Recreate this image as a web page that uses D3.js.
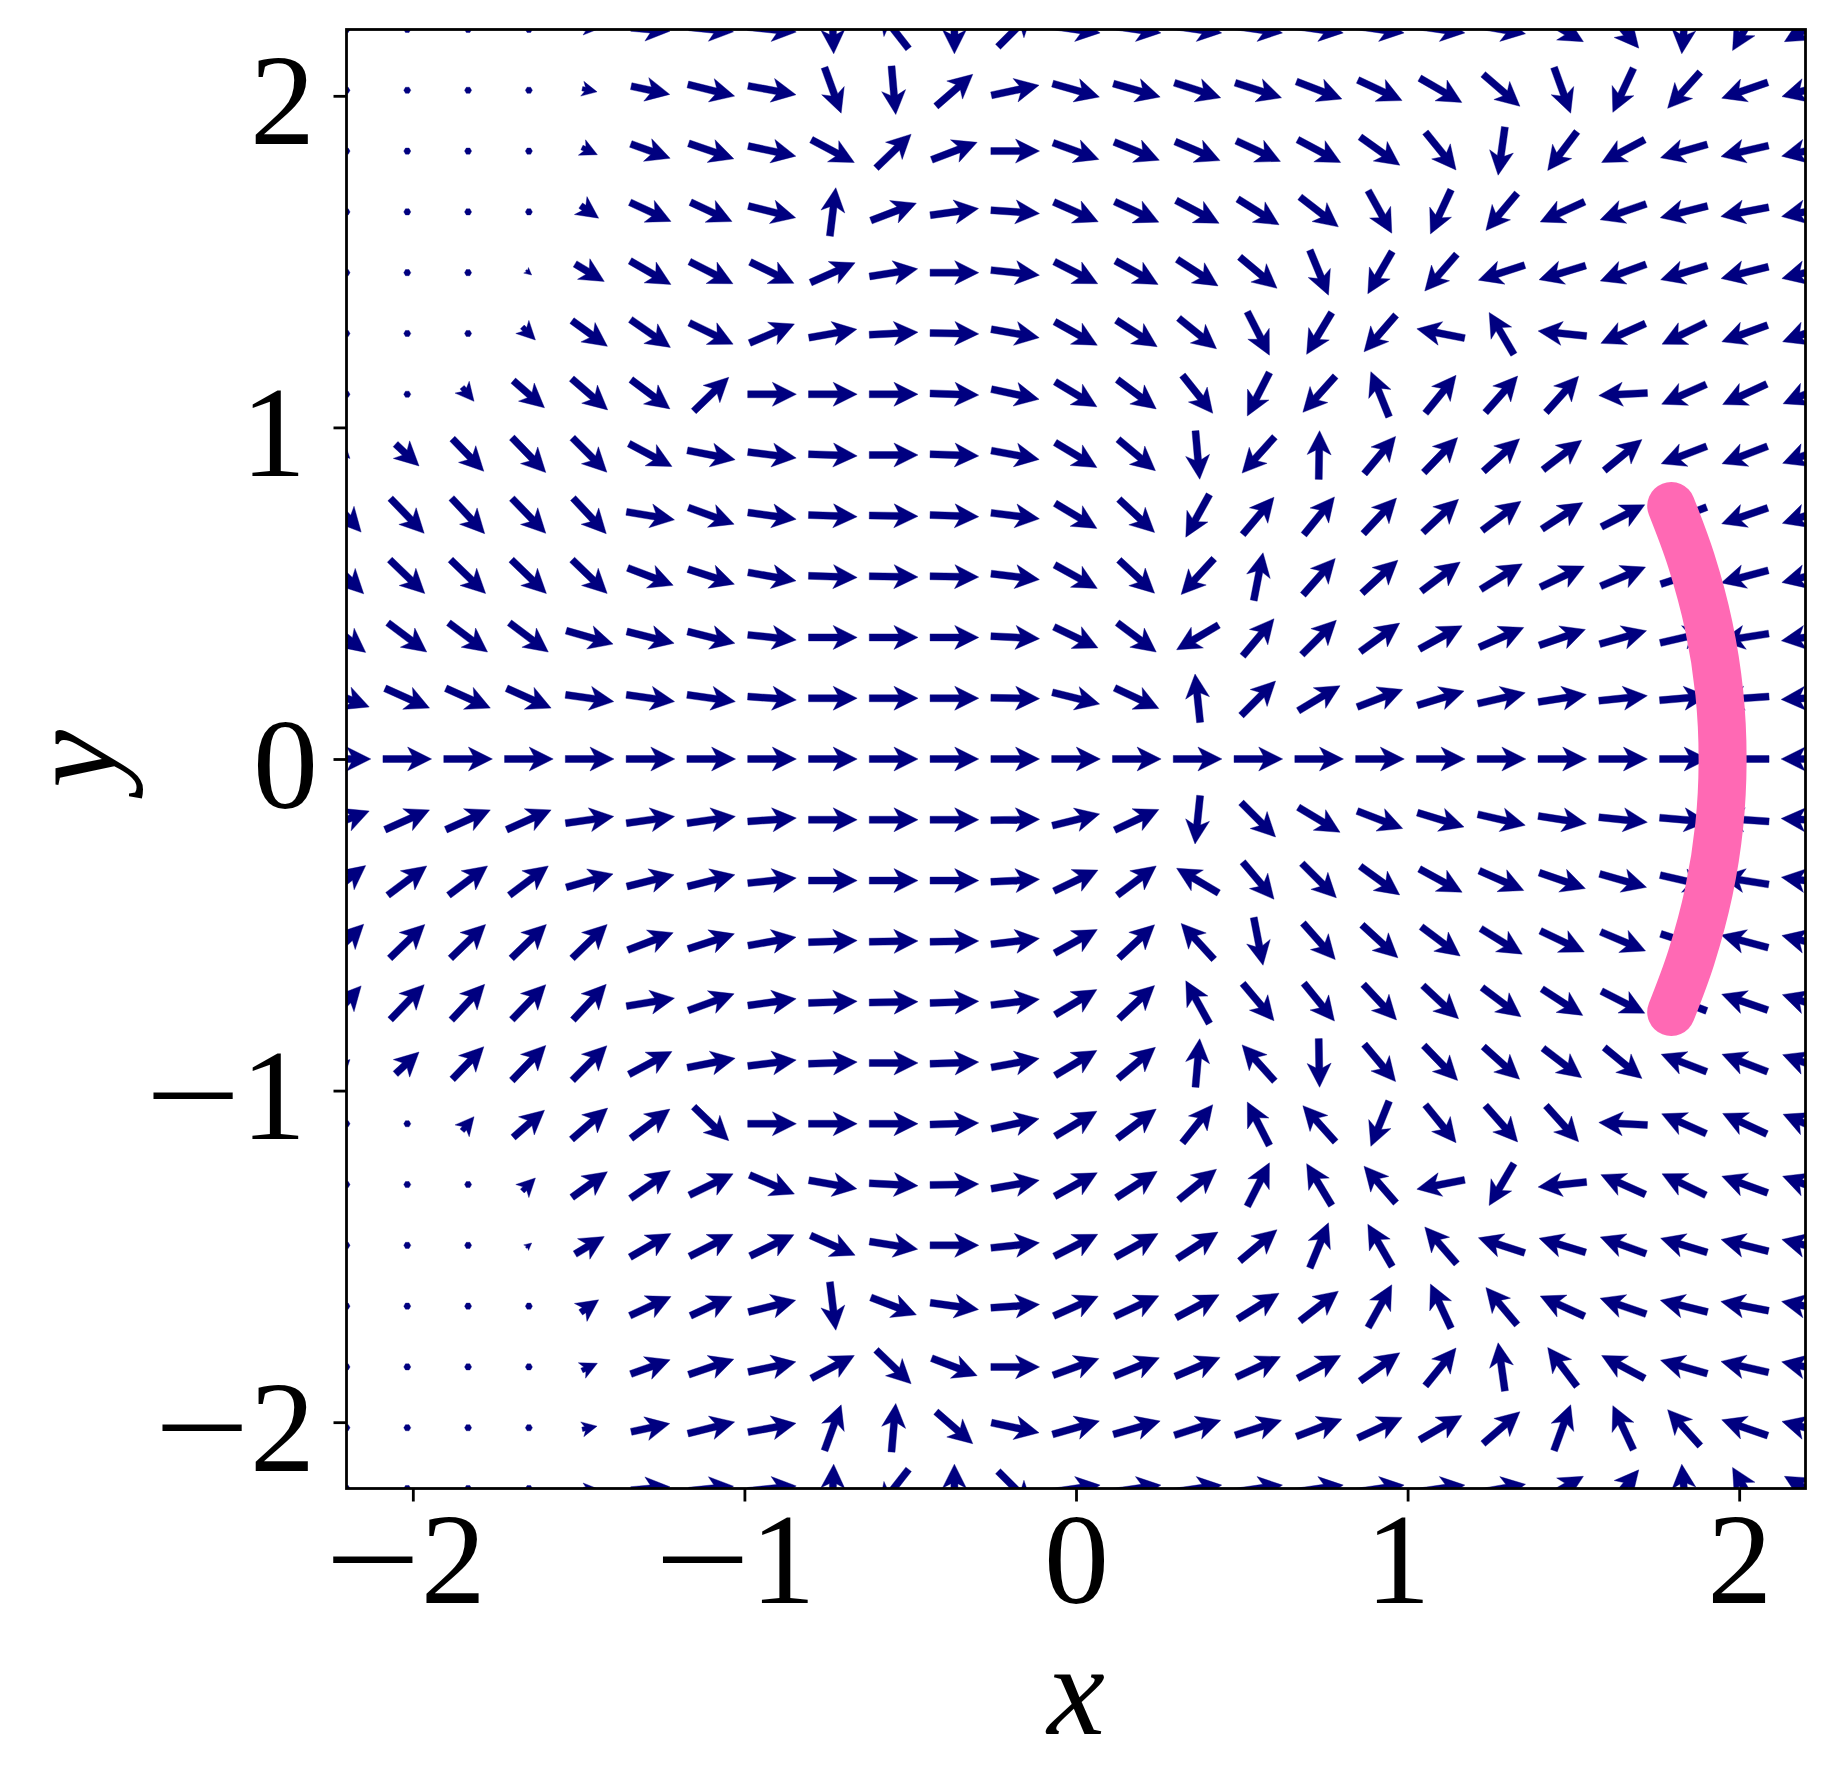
<!DOCTYPE html>
<html>
<head>
<meta charset="utf-8">
<script src="https://cdn.jsdelivr.net/npm/d3@7"></script>
<style>
  html, body { margin: 0; padding: 0; background: #ffffff; }
  svg { display: block; }
</style>
</head>
<body>
<svg id="chart" width="1834" height="1787"></svg>
<script>
// ---------------- DATA ----------------
const xGrid = [-2.2, -2.0167, -1.8333, -1.65, -1.4667, -1.2833, -1.1, -0.9167, -0.7333, -0.55, -0.3667, -0.1833,
               0, 0.1833, 0.3667, 0.55, 0.7333, 0.9167, 1.1, 1.2833, 1.4667, 1.65, 1.8333, 2.0167, 2.2];
const yGrid = [2.2, 2.0167, 1.8333, 1.65, 1.4667, 1.2833, 1.1, 0.9167, 0.7333, 0.55, 0.3667, 0.1833,
               0, -0.1833, -0.3667, -0.55, -0.7333, -0.9167, -1.1, -1.2833, -1.4667, -1.65, -1.8333, -2.0167, -2.2];

// arrow direction in degrees (counter-clockwise from +x), one row per yGrid value, one entry per xGrid value
const angleRows = [
  [0,0,0,0,-5,-5,-6,-6,-88,128,-90,45,-8,-8,-8,-8,-8,-8,-8,-10,-30,-50,-95,-120,-150],
  [0,0,0,0,-12,-12,-14,-10.5,-70,-85,41,12,-16,-16,-18,-18,-21,-25,-30,-41,-70,-115,-132,-161,-165],
  [0,0,0,0,-25,-20,-19,-12,-28,44,21,0,-20,-22,-23,-25,-28,-35.5,-51,-98,-127,-152,-164,-167,-168],
  [0,0,0,0,-35,-25,-25,-14,83,21,8,-4,-24,-25,-28,-32,-38,-61,-115,-130,-155.5,-161,-166,-169,-169],
  [0,0,0,-40,-31,-30,-27,-26,24,9,0,-6,-27,-29,-33,-40,-67.5,-120,-131,-162,-163,-160,-163,-166,-166],
  [0,0,0,-45,-36,-35,-26,23,10,3,-1,-10,-29,-33,-39,-63,-121,-131,169,120.5,174,-156,-154,-160,-160],
  [0,0,-50,-41,-41,-37,44,0,0,0,-2,-12,-31,-37,-51.5,-117,-132,112,51,48.5,48,-177,-156,-155,-157],
  [-45,-43,-46,-46,-45,-28,-11,-7,-2,0,-2,-10.5,-31,-40,-85,-132,89,50,46,42,37.5,39.5,-159,-159,-160],
  [-48,-46,-47,-46,-47,-9.5,-20,-8,-2,-1,-2,-7,-31,-43,-119,50,51,47,43,37,33,27,-159,-161,-162],
  [-45,-44,-44,-44,-44,-21,-18,-10,-2,-1,-1,-7,-29,-43,-132.5,79,48.5,42.6,37,31.6,25.6,23,18,-165,-166],
  [-38,-37,-37,-37,-16,-14,-14,-6,0,0,0,-3,-25.5,-37,-149.5,50,45,36,28.6,24,19,16,13,-171,-172],
  [-21,-24,-24,-24,-8,-8,-8,-4,0,0,0,-1,-14,-25,96,45,31,21,17,13,9,6,5,-176,-177],
  [0,0,0,0,0,0,0,0,0,0,0,0,0,0,0,0,0,0,0,0,0,0,0,180,180],
  [21,24,24,24,8,8,8,4,0,0,0,1,14,25,-96,-45,-31,-21,-17,-13,-9,-6,-5,176,177],
  [38,37,37,37,16,14,14,6,0,0,0,3,25.5,37,149.5,-50,-45,-36,-28.6,-24,-19,-16,-13,171,172],
  [45,44,44,44,44,21,18,10,2,1,1,7,29,43,132.5,-79,-48.5,-42.6,-37,-31.6,-25.6,-23,-18,165,166],
  [48,46,47,46,47,9.5,20,8,2,1,2,7,31,43,119,-50,-51,-47,-43,-37,-33,-27,159,161,162],
  [45,43,46,46,45,28,11,7,2,0,2,10.5,31,40,85,132,-89,-50,-46,-42,-37.5,-39.5,159,159,160],
  [0,0,50,41,41,37,-44,0,0,0,2,12,31,37,51.5,117,132,-112,-51,-48.5,-48,177,156,155,157],
  [0,0,0,45,36,35,26,-23,-10,-3,1,10,29,33,39,63,121,131,-169,-120.5,-174,156,154,160,160],
  [0,0,0,40,31,30,27,26,-24,-9,0,6,27,29,33,40,67.5,120,131,162,163,160,163,166,166],
  [0,0,0,0,35,25,25,14,-83,-21,-8,4,24,25,28,32,38,61,115,130,155.5,161,166,169,169],
  [0,0,0,0,25,20,19,12,28,-44,-21,0,20,22,23,25,28,35.5,51,98,127,152,164,167,168],
  [0,0,0,0,12,12,14,10.5,70,85,-41,-12,16,16,18,18,21,25,30,41,70,115,132,161,165],
  [0,0,0,0,5,5,6,6,88,-128,90,-45,8,8,8,8,8,8,8,10,30,50,95,120,150]
];

// relative arrow magnitude (1 = full-length arrow, 0 = dot)
const magRows = [
  [0,0,0,0,0.25,0.8,0.92,1,1,1,1,1,1,1,1,1,1,1,1,1,1,1,1,1,1],
  [0,0,0,0,0.31,0.81,0.99,1,1,1,1,1,1,1,1,1,1,1,1,1,1,1,1,1,1],
  [0,0,0,0,0.35,0.86,0.98,1,1,1,1,1,1,1,1,1,1,1,1,1,1,1,1,1,1],
  [0,0,0,0,0.45,0.93,0.94,1,1,1,1,1,1,1,1,1,1,1,1,1,1,1,1,1,1],
  [0,0,0,0.15,0.7,0.97,1,1,1,1,1,1,1,1,1,1,1,1,1,1,1,1,1,1,1],
  [0,0,0,0.38,0.9,1,1,1,1,1,1,1,1,1,1,1,1,1,1,1,1,1,1,1,1],
  [0,0,0.38,0.85,0.98,1,1,1,1,1,1,1,1,1,1,1,1,1,1,1,1,1,1,1,1],
  [0.2,0.66,0.93,1,1,1,1,1,1,1,1,1,1,1,1,1,1,1,1,1,1,1,1,1,1],
  [0.9,1,1,1,1,1,1,1,1,1,1,1,1,1,1,1,1,1,1,1,1,1,1,1,1],
  [1,1,1,1,1,1,1,1,1,1,1,1,1,1,1,1,1,1,1,1,1,1,1,1,1],
  [1,1,1,1,1,1,1,1,1,1,1,1,1,1,1,1,1,1,1,1,1,1,1,1,1],
  [1,1,1,1,1,1,1,1,1,1,1,1,1,1,1,1,1,1,1,1,1,1,1,1,1],
  [1,1,1,1,1,1,1,1,1,1,1,1,1,1,1,1,1,1,1,1,1,1,1,1,1],
  [1,1,1,1,1,1,1,1,1,1,1,1,1,1,1,1,1,1,1,1,1,1,1,1,1],
  [1,1,1,1,1,1,1,1,1,1,1,1,1,1,1,1,1,1,1,1,1,1,1,1,1],
  [1,1,1,1,1,1,1,1,1,1,1,1,1,1,1,1,1,1,1,1,1,1,1,1,1],
  [0.9,1,1,1,1,1,1,1,1,1,1,1,1,1,1,1,1,1,1,1,1,1,1,1,1],
  [0.2,0.66,0.93,1,1,1,1,1,1,1,1,1,1,1,1,1,1,1,1,1,1,1,1,1,1],
  [0,0,0.38,0.85,0.98,1,1,1,1,1,1,1,1,1,1,1,1,1,1,1,1,1,1,1,1],
  [0,0,0,0.38,0.9,1,1,1,1,1,1,1,1,1,1,1,1,1,1,1,1,1,1,1,1],
  [0,0,0,0.15,0.7,0.97,1,1,1,1,1,1,1,1,1,1,1,1,1,1,1,1,1,1,1],
  [0,0,0,0,0.45,0.93,0.94,1,1,1,1,1,1,1,1,1,1,1,1,1,1,1,1,1,1],
  [0,0,0,0,0.35,0.86,0.98,1,1,1,1,1,1,1,1,1,1,1,1,1,1,1,1,1,1],
  [0,0,0,0,0.31,0.81,0.99,1,1,1,1,1,1,1,1,1,1,1,1,1,1,1,1,1,1],
  [0,0,0,0,0.25,0.8,0.92,1,1,1,1,1,1,1,1,1,1,1,1,1,1,1,1,1,1]
];

// pink curve points (x, y)
const curveX = [1.795, 1.855, 1.9085, 1.94, 1.95, 1.94, 1.9085, 1.855, 1.795];
const curveY = [0.763, 0.6, 0.4, 0.2, 0, -0.2, -0.4, -0.6, -0.763];

const xTicks = [-2, -1, 0, 1, 2];
const xTickLabels = ["\u22122", "\u22121", "0", "1", "2"];
const yTicks = [-2, -1, 0, 1, 2];
const yTickLabels = ["\u22122", "\u22121", "0", "1", "2"];

// ---------------- DRAWING ----------------
const plotLeft = 346.5, plotRight = 1805.5, plotTop = 29.5, plotBottom = 1488.5;
const x = d3.scaleLinear().domain([-2.2, 2.2]).range([plotLeft, plotRight]);
const y = d3.scaleLinear().domain([-2.2, 2.2]).range([plotBottom, plotTop]);

const svg = d3.select('#chart');
const FONT = '"Liberation Serif", "Times New Roman", "DejaVu Serif", serif';
const NAVY = '#000080';

svg.append('defs').append('clipPath').attr('id', 'plotclip')
  .append('rect')
  .attr('x', plotLeft).attr('y', plotTop)
  .attr('width', plotRight - plotLeft).attr('height', plotBottom - plotTop);

const plot = svg.append('g').attr('clip-path', 'url(#plotclip)');

// pink curve (below arrows)
const curvePts = curveX.map((cx, k) => [cx, curveY[k]]);
const lineGen = d3.line().x(d => x(d[0])).y(d => y(d[1])).curve(d3.curveCatmullRom);
svg.append('path')
  .datum(curvePts)
  .attr('d', lineGen)
  .attr('fill', 'none')
  .attr('stroke', '#ff69b4')
  .attr('stroke-width', 48)
  .attr('stroke-linecap', 'round')
  .attr('stroke-linejoin', 'round');

// quiver arrows (pivot = middle)
const arrowUnit = 0.1468;                 // data units for a magnitude-1 arrow
const fullLen = x(arrowUnit) - x(0);      // px
const shaftW = 7, headW = 24, headL = 24, headAxisL = 19.5;

const cells = [];
yGrid.forEach((yv, j) => xGrid.forEach((xv, i) => {
  cells.push({ x: xv, y: yv, a: angleRows[j][i], m: magRows[j][i] });
}));

function arrowPath(d) {
  const L = d.m * fullLen;
  let pts;
  if (L < shaftW) {
    pts = d3.range(6).map(k => [Math.cos(k * Math.PI / 3) * shaftW / 2, Math.sin(k * Math.PI / 3) * shaftW / 2]);
  } else if (L < headL) {
    const s = L / headL;
    pts = [[0, s * shaftW / 2], [s * (headL - headAxisL), s * shaftW / 2], [0, s * headW / 2], [L, 0],
           [0, -s * headW / 2], [s * (headL - headAxisL), -s * shaftW / 2], [0, -s * shaftW / 2]]
      .map(p => [p[0] - L / 2, p[1]]);
  } else {
    pts = [[0, shaftW / 2], [L - headAxisL, shaftW / 2], [L - headL, headW / 2], [L, 0],
           [L - headL, -headW / 2], [L - headAxisL, -shaftW / 2], [0, -shaftW / 2]]
      .map(p => [p[0] - L / 2, p[1]]);
  }
  const th = -d.a * Math.PI / 180;
  const c = Math.cos(th), s2 = Math.sin(th);
  const cx = x(d.x), cy = y(d.y);
  return 'M' + pts.map(p => (cx + p[0] * c - p[1] * s2).toFixed(2) + ',' + (cy + p[0] * s2 + p[1] * c).toFixed(2)).join('L') + 'Z';
}

plot.selectAll('path.arrow')
  .data(cells)
  .join('path')
  .attr('class', 'arrow')
  .attr('d', arrowPath)
  .attr('fill', NAVY)
  .attr('stroke', NAVY)
  .attr('stroke-width', 0.4);

// axes
const xAxis = d3.axisBottom(x).tickValues(xTicks).tickSize(13).tickPadding(9)
  .tickFormat((d, i) => xTickLabels[i]);
const yAxis = d3.axisLeft(y).tickValues(yTicks).tickSize(13).tickPadding(15.5)
  .tickFormat((d, i) => yTickLabels[i]);

const gx = svg.append('g').attr('transform', `translate(0,${plotBottom})`).call(xAxis);
const gy = svg.append('g').attr('transform', `translate(${plotLeft},0)`).call(yAxis);

[gx, gy].forEach(g => {
  g.select('.domain').remove();
  g.selectAll('.tick line').attr('stroke', '#000').attr('stroke-width', 2.8);
  g.selectAll('.tick text')
    .attr('fill', '#000')
    .style('font-family', FONT)
    .style('font-size', '130px');
});
gy.selectAll('.tick text').attr('dy', '0.37em');

// wider math-style minus sign and small glyph-metric nudges (STIX-like)
function styleLabels(g, isX) {
  g.selectAll('.tick text').each(function () {
    const t = d3.select(this);
    const txt = t.text();
    const hasOne = txt.indexOf('1') >= 0;
    if (txt.charAt(0) === '\u2212') {
      t.text(null);
      t.append('tspan').attr('textLength', 96).attr('lengthAdjust', 'spacingAndGlyphs').text('\u2212');
      t.append('tspan').text(txt.slice(1));
    }
    let shift = 0;
    if (isX) {
      if (txt === '\u22122') shift = -8;
      else if (hasOne) shift = -10;
    } else {
      if (hasOne) shift = -12;
      else if (txt.indexOf('2') >= 0) shift = -3;
    }
    if (shift) t.attr('x', (+t.attr('x') || 0) + shift);
  });
}
styleLabels(gx, true);
styleLabels(gy, false);

// frame
svg.append('rect')
  .attr('x', plotLeft).attr('y', plotTop)
  .attr('width', plotRight - plotLeft).attr('height', plotBottom - plotTop)
  .attr('fill', 'none').attr('stroke', '#000').attr('stroke-width', 2.8);

// axis labels
svg.append('text')
  .attr('x', x(0)).attr('y', 1734)
  .attr('text-anchor', 'middle')
  .style('font-family', FONT).style('font-style', 'italic').style('font-size', '130px')
  .text('x');

svg.append('text')
  .attr('transform', `translate(115,${y(0)}) rotate(-90)`)
  .attr('text-anchor', 'middle')
  .style('font-family', FONT).style('font-style', 'italic').style('font-size', '130px')
  .text('y');
</script>
</body>
</html>
